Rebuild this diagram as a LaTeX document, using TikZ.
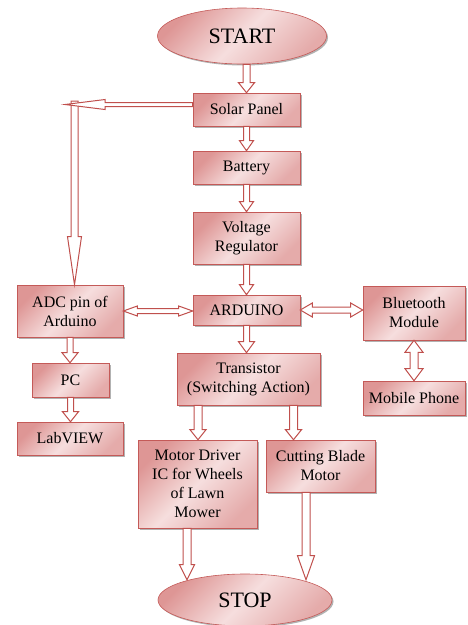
\documentclass[tikz,border=0pt]{standalone}
\usepackage{fontspec}
\setmainfont{Liberation Serif}
\usetikzlibrary{calc,shapes.geometric,shadows}
\definecolor{bord}{RGB}{196,90,88}
\definecolor{arrred}{RGB}{192,80,77}
\definecolor{pdark}{RGB}{222,150,149}
\definecolor{plight}{RGB}{246,222,222}
\tikzset{
  box/.style={draw=bord, line width=0.6pt, shading=axis, left color=pdark, right color=pdark!80!white,
    middle color=plight, shading angle=45, align=center, inner sep=1pt,
    font=\fontsize{16}{19}\selectfont,
    drop shadow={shadow xshift=1.5pt, shadow yshift=-1.5pt, fill=black, opacity=0.3}},
  oval/.style={box, ellipse, inner sep=0pt, font=\fontsize{22}{26}\selectfont},
  arr/.style={draw=arrred, fill=white, line width=1pt, line join=miter}
}
% single block arrow: #1 shaft half-width, #2 head half-width, #3 head length, #4 from, #5 to
\newcommand\blk[5]{%
  \path (#4) coordinate (bS) (#5) coordinate (bE);
  \path ($(bE)!#3!(bS)$) coordinate (bH);
  \filldraw[arr] ($(bS)!#1!90:(bE)$) -- ($(bH)!#1!-90:(bS)$) -- ($(bH)!#2!-90:(bS)$) -- (bE)
     -- ($(bH)!#2!90:(bS)$) -- ($(bH)!#1!90:(bS)$) -- ($(bS)!#1!-90:(bE)$) -- cycle;
}
% double-headed block arrow
\newcommand\dblk[5]{%
  \path (#4) coordinate (bS) (#5) coordinate (bE);
  \path ($(bS)!#3!(bE)$) coordinate (bHa) ($(bE)!#3!(bS)$) coordinate (bHb);
  \filldraw[arr] (bS) -- ($(bHa)!#2!90:(bE)$) -- ($(bHa)!#1!90:(bE)$) -- ($(bHb)!#1!-90:(bS)$)
     -- ($(bHb)!#2!-90:(bS)$) -- (bE) -- ($(bHb)!#2!90:(bS)$) -- ($(bHb)!#1!90:(bS)$)
     -- ($(bHa)!#1!-90:(bE)$) -- ($(bHa)!#2!-90:(bE)$) -- cycle;
}
\begin{document}
\begin{tikzpicture}[x=1pt,y=-1pt]
\useasboundingbox (0,0) rectangle (467,625);
% nodes
\node[oval, minimum width=169pt, minimum height=56pt] (start) at (242,36) {START};
\node[box, minimum width=107pt, minimum height=33pt] (solar) at (246.5,109.5) {Solar Panel};
\node[box, minimum width=107pt, minimum height=33pt] (battery) at (246.5,167.5) {Battery};
\node[box, minimum width=107pt, minimum height=52pt] (vr) at (246.5,238) {Voltage\\Regulator};
\node[box, minimum width=106pt, minimum height=52pt] (adc) at (70,311) {ADC pin of\\Arduino};
\node[box, minimum width=107pt, minimum height=30pt] (arduino) at (246.5,310) {ARDUINO};
\node[box, minimum width=102pt, minimum height=54pt] (bt) at (414,313) {Bluetooth\\Module};
\node[box, minimum width=102pt, minimum height=34pt] (mobile) at (414,398) {Mobile Phone};
\node[box, minimum width=143pt, minimum height=52pt] (trans) at (248.5,379) {Transistor\\(Switching Action)};
\node[box, minimum width=77pt, minimum height=34pt] (pc) at (70.5,380) {PC};
\node[box, minimum width=106pt, minimum height=33pt] (lab) at (70,438.5) {LabVIEW};
\node[box, minimum width=119pt, minimum height=88pt] (motor) at (197.5,484) {Motor Driver\\IC for Wheels\\of Lawn\\Mower};
\node[box, minimum width=109pt, minimum height=52pt] (cut) at (320.5,466) {Cutting Blade\\Motor};
\node[oval, minimum width=174pt, minimum height=52pt] (stop) at (245,600) {STOP};
% helper coordinates
\coordinate (sp) at ($(solar.west)+(0,-5)$);
\coordinate (corner) at (65,104.5);
\coordinate (vtop) at (74.5,101);
\coordinate (tm) at ($(trans.south)+(-50.5,0)$);
\coordinate (tc) at ($(trans.south)+(45,0)$);
\coordinate (ms) at ($(motor.south)+(-10.5,0)$);
\coordinate (cs) at ($(cut.south)+(-14.5,0)$);
% connectors
\blk{3.5pt}{8pt}{10pt}{solar.north |- start.south}{solar.north}
\blk{3pt}{7pt}{10pt}{solar.south}{battery.north}
\blk{3pt}{7pt}{10pt}{battery.south}{vr.north}
\blk{3pt}{7pt}{10pt}{vr.south}{arduino.north}
\blk{3pt}{8pt}{11pt}{arduino.south}{arduino.south |- trans.north}
\blk{3.5pt}{7pt}{48pt}{vtop}{vtop |- adc.north}
\blk{2pt}{5pt}{40pt}{sp}{corner}
\dblk{2.5pt}{5pt}{14pt}{adc.east}{adc.east -| arduino.west}
\dblk{3pt}{7pt}{12pt}{arduino.east}{arduino.east -| bt.west}
\dblk{4pt}{9pt}{12pt}{bt.south}{bt.south |- mobile.north}
\blk{3pt}{8pt}{10pt}{adc.south}{adc.south |- pc.north}
\blk{3pt}{8pt}{10pt}{pc.south}{pc.south |- lab.north}
\blk{4pt}{8pt}{10pt}{tm}{tm |- motor.north}
\blk{4pt}{8pt}{10pt}{tc}{tc |- cut.north}
\blk{4pt}{7.5pt}{15pt}{ms}{ms |- stop.160}
\blk{4pt}{8.5pt}{24pt}{cs}{cs |- stop.20}
\end{tikzpicture}
\end{document}
